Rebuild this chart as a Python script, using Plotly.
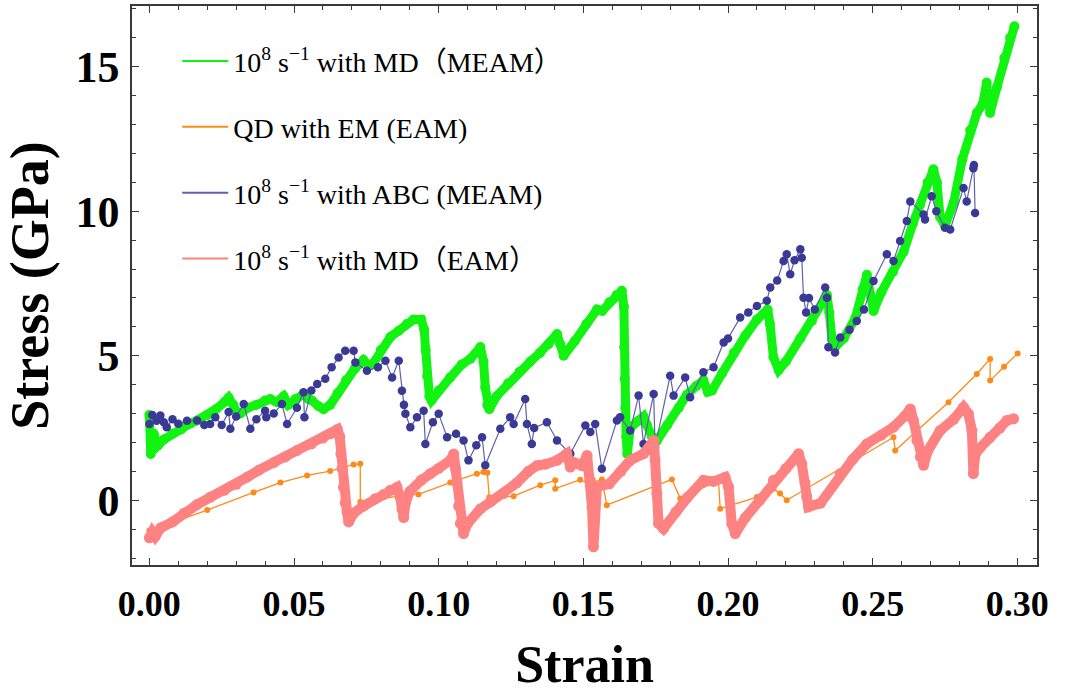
import plotly.graph_objects as go

# ---------------- data ----------------
green_x = [0.0000, 0.0005, 0.0015, 0.0030, 0.0050, 0.0080, 0.0110, 0.0140, 0.0165, 0.0200,
           0.0230, 0.0260, 0.0274, 0.0290, 0.0305, 0.0315, 0.0340, 0.0370, 0.0400, 0.0418,
           0.0440, 0.0464, 0.0480, 0.0505, 0.0533, 0.0550, 0.0562, 0.0585, 0.0602, 0.0625,
           0.0650, 0.0680, 0.0710, 0.0740, 0.0760, 0.0775, 0.0800, 0.0833, 0.0860, 0.0890,
           0.0913, 0.0940, 0.0950, 0.0955, 0.0960, 0.0968, 0.0975, 0.1000, 0.1040, 0.1080,
           0.1110, 0.1144, 0.1155, 0.1161, 0.1168, 0.1175, 0.1200, 0.1240, 0.1280, 0.1317,
           0.1350, 0.1380, 0.1409, 0.1420, 0.1432, 0.1470, 0.1510, 0.1547, 0.1565, 0.1590,
           0.1615, 0.1633, 0.1640, 0.1641, 0.1643, 0.1645, 0.1648, 0.1652, 0.1662, 0.1690,
           0.1708, 0.1720, 0.1737, 0.1754, 0.1790, 0.1830, 0.1858, 0.1890, 0.1915, 0.1930,
           0.1945, 0.1980, 0.2020, 0.2060, 0.2100, 0.2123, 0.2137, 0.2145, 0.2157, 0.2175,
           0.2200, 0.2250, 0.2290, 0.2330, 0.2342, 0.2350, 0.2359, 0.2370, 0.2400, 0.2440,
           0.2465, 0.2480, 0.2495, 0.2503, 0.2530, 0.2570, 0.2607, 0.2640, 0.2663, 0.2690,
           0.2710, 0.2722, 0.2733, 0.2750, 0.2780, 0.2810, 0.2837, 0.2860, 0.2880, 0.2894,
           0.2900, 0.2906, 0.2930, 0.2955, 0.2975, 0.2990]
green_y = [2.95, 1.60, 2.30, 1.90, 2.10, 2.30, 2.45, 2.65, 2.76, 2.95,
           3.15, 3.40, 3.55, 3.30, 3.00, 3.00, 3.20, 3.30, 3.45, 3.50,
           3.40, 3.60, 3.30, 3.50, 3.68, 3.50, 3.45, 3.25, 3.15, 3.30,
           3.70, 4.15, 4.55, 4.85, 4.65, 4.75, 5.20, 5.65, 5.85, 6.10,
           6.25, 6.25, 5.90, 5.20, 4.30, 3.60, 3.45, 3.80, 4.25, 4.70,
           4.90, 5.30, 4.80, 3.90, 3.30, 3.15, 3.60, 4.05, 4.45, 4.80,
           5.10, 5.40, 5.75, 5.40, 5.00, 5.50, 6.10, 6.60, 6.55, 6.85,
           7.10, 7.25, 6.70, 5.30, 4.20, 3.20, 2.20, 1.60, 2.50, 2.75,
           2.90, 2.60, 2.20, 2.05, 2.60, 3.20, 3.65, 3.95, 4.15, 3.75,
           3.80, 4.40, 5.10, 5.70, 6.25, 6.45, 6.60, 6.10, 4.95, 4.50,
           4.80, 5.60, 6.20, 6.85, 7.10, 6.50, 5.60, 5.30, 5.60, 6.30,
           7.30, 7.80, 7.00, 6.55, 7.20, 7.90, 8.60, 9.60, 10.20, 11.00,
           11.45, 11.00, 9.80, 9.50, 10.30, 11.80, 12.80, 13.40, 13.70, 14.45,
           13.80, 13.40, 14.30, 15.30, 16.00, 16.40]

orange_x = [0.0000, 0.0200, 0.0360, 0.0453, 0.0545, 0.0625, 0.0706, 0.0729, 0.0729, 0.0902,
            0.0930, 0.1040, 0.1132, 0.1155, 0.1168, 0.1175, 0.1259, 0.1351, 0.1403, 0.1403,
            0.1489, 0.1518, 0.1564, 0.1581, 0.1806, 0.1835, 0.1967, 0.1973, 0.2100, 0.2157,
            0.2180, 0.2203, 0.2572, 0.2578, 0.2762, 0.2860, 0.2906, 0.2906, 0.2954, 0.3001]
orange_y = [-1.05, -0.34, 0.27, 0.61, 0.86, 1.01, 1.24, 1.26, -0.06, 0.20,
            0.20, 0.61, 0.92, 0.98, 0.95, 0.10, 0.14, 0.52, 0.69, 0.40,
            0.71, 0.57, 0.72, -0.17, 0.72, 0.06, 0.69, -0.29, 0.11, 0.40,
            0.23, 0.00, 2.18, 1.72, 3.39, 4.37, 4.89, 4.14, 4.62, 5.08]

blue_x = [0.0000, 0.0010, 0.0025, 0.0038, 0.0050, 0.0060, 0.0080, 0.0100, 0.0130, 0.0165,
          0.0190, 0.0210, 0.0228, 0.0250, 0.0274, 0.0280, 0.0300, 0.0326, 0.0349, 0.0370,
          0.0400, 0.0404, 0.0430, 0.0458, 0.0476, 0.0510, 0.0533, 0.0536, 0.0560, 0.0580,
          0.0608, 0.0630, 0.0654, 0.0677, 0.0706, 0.0712, 0.0752, 0.0790, 0.0816, 0.0839,
          0.0862, 0.0873, 0.0880, 0.0885, 0.0902, 0.0925, 0.0948, 0.0954, 0.0980, 0.1000,
          0.1029, 0.1060, 0.1086, 0.1103, 0.1130, 0.1150, 0.1161, 0.1213, 0.1247, 0.1259,
          0.1299, 0.1305, 0.1322, 0.1330, 0.1374, 0.1409, 0.1455, 0.1507, 0.1524, 0.1541,
          0.1564, 0.1616, 0.1627, 0.1662, 0.1691, 0.1708, 0.1743, 0.1748, 0.1800, 0.1812,
          0.1852, 0.1869, 0.1915, 0.1950, 0.1985, 0.2000, 0.2042, 0.2070, 0.2100, 0.2134,
          0.2146, 0.2170, 0.2192, 0.2203, 0.2215, 0.2230, 0.2250, 0.2255, 0.2261, 0.2270,
          0.2280, 0.2300, 0.2336, 0.2342, 0.2347, 0.2370, 0.2388, 0.2420, 0.2445, 0.2470,
          0.2503, 0.2549, 0.2572, 0.2595, 0.2618, 0.2630, 0.2676, 0.2681, 0.2704, 0.2720,
          0.2750, 0.2768, 0.2814, 0.2825, 0.2848, 0.2850, 0.2854]
blue_y = [2.64, 2.95, 2.75, 2.93, 2.70, 2.53, 2.80, 2.65, 2.75, 2.76,
          2.60, 2.64, 2.87, 2.60, 3.05, 2.47, 2.90, 3.33, 2.47, 2.80,
          3.10, 2.87, 3.00, 3.33, 2.64, 3.20, 3.74, 2.87, 3.80, 4.02,
          4.20, 4.60, 4.94, 5.17, 5.17, 4.77, 4.48, 4.60, 4.83, 4.25,
          4.83, 3.79, 3.30, 2.99, 2.53, 2.87, 3.10, 1.95, 2.70, 2.99,
          2.18, 2.30, 2.07, 1.38, 1.90, 2.18, 1.21, 2.47, 2.87, 2.64,
          3.50, 2.64, 1.95, 2.50, 2.70, 2.07, 1.61, 2.59, 2.36, 2.64,
          1.09, 2.76, 2.87, 2.41, 3.62, 1.95, 3.68, 1.84, 4.31, 3.62,
          4.25, 3.56, 4.43, 4.60, 5.46, 5.60, 6.32, 6.50, 6.72, 6.90,
          7.36, 7.60, 8.28, 8.51, 7.82, 8.30, 8.68, 8.39, 7.01, 6.50,
          7.00, 6.60, 7.36, 7.01, 5.29, 5.11, 5.63, 5.90, 6.20, 6.60,
          7.59, 8.51, 8.28, 8.97, 9.66, 10.34, 9.89, 9.71, 10.52, 10.00,
          9.43, 9.37, 10.80, 10.34, 11.49, 11.60, 9.94]

pink_x = [0.0000, 0.0010, 0.0020, 0.0040, 0.0080, 0.0120, 0.0165, 0.0210, 0.0260, 0.0300,
          0.0338, 0.0380, 0.0430, 0.0470, 0.0510, 0.0560, 0.0600, 0.0625, 0.0650, 0.0658,
          0.0662, 0.0666, 0.0671, 0.0677, 0.0683, 0.0689, 0.0706, 0.0740, 0.0780, 0.0810,
          0.0833, 0.0856, 0.0867, 0.0873, 0.0879, 0.0885, 0.0900, 0.0940, 0.0971, 0.1000,
          0.1040, 0.1052, 0.1058, 0.1063, 0.1069, 0.1075, 0.1086, 0.1100, 0.1144, 0.1180,
          0.1224, 0.1270, 0.1310, 0.1340, 0.1370, 0.1409, 0.1443, 0.1455, 0.1470, 0.1495,
          0.1513, 0.1524, 0.1530, 0.1535, 0.1547, 0.1590, 0.1630, 0.1662, 0.1708, 0.1743,
          0.1748, 0.1754, 0.1760, 0.1777, 0.1820, 0.1860, 0.1915, 0.1950, 0.1990, 0.2002,
          0.2013, 0.2025, 0.2060, 0.2110, 0.2157, 0.2200, 0.2244, 0.2255, 0.2266, 0.2272,
          0.2278, 0.2320, 0.2388, 0.2430, 0.2480, 0.2530, 0.2572, 0.2610, 0.2630, 0.2641,
          0.2653, 0.2665, 0.2676, 0.2690, 0.2733, 0.2780, 0.2814, 0.2831, 0.2843, 0.2848,
          0.2855, 0.2870, 0.2906, 0.2940, 0.2964, 0.2987]
pink_y = [-1.30, -1.10, -1.25, -0.95, -0.75, -0.45, -0.15, 0.10, 0.35, 0.55,
          0.80, 1.05, 1.30, 1.50, 1.72, 1.95, 2.15, 2.30, 2.45, 2.20,
          1.60, 1.10, 0.45, -0.10, -0.40, -0.75, -0.45, -0.20, 0.05, 0.20,
          0.35, 0.45, 0.10, -0.30, -0.60, -0.10, 0.30, 0.70, 0.92, 1.10,
          1.38, 1.60, 1.10, 0.60, -0.20, -0.80, -1.15, -0.80, -0.30, -0.05,
          0.23, 0.60, 1.00, 1.20, 1.25, 1.38, 1.61, 1.15, 1.30, 1.20,
          1.55, 0.69, -0.23, -1.61, 0.46, 0.57, 1.00, 1.38, 1.61, 2.07,
          1.38, 0.23, -0.80, -0.98, -0.40, 0.10, 0.69, 0.65, 0.80, 0.46,
          -0.80, -1.15, -0.60, 0.00, 0.69, 1.10, 1.61, 1.26, 0.60, 0.11,
          -0.23, -0.10, 0.92, 1.40, 1.95, 2.25, 2.53, 2.90, 3.16, 2.76,
          2.07, 1.50, 1.21, 1.70, 2.41, 2.80, 3.22, 2.99, 2.41, 0.92,
          1.60, 1.80, 2.18, 2.50, 2.76, 2.82]

x_ticks = [0.00, 0.05, 0.10, 0.15, 0.20, 0.25, 0.30]
x_tick_labels = ["0.00", "0.05", "0.10", "0.15", "0.20", "0.25", "0.30"]
y_ticks = [0, 5, 10, 15]
y_tick_labels = ["0", "5", "10", "15"]

legend_names = ["10<sup>8</sup> s<sup>\u22121</sup> with MD\uff08MEAM\uff09",
                "QD with EM (EAM)",
                "10<sup>8</sup> s<sup>\u22121</sup> with ABC (MEAM)",
                "10<sup>8</sup> s<sup>\u22121</sup> with MD\uff08EAM\uff09"]

# ---------------- styles ----------------
C_GREEN = "#12F312"
C_ORANGE = "#FF8A1A"
C_BLUE = "#3A3A96"
C_BLUE_LINE = "#6060B0"
C_PINK = "#FF8282"
SERIF = "Liberation Serif, Times New Roman, Noto Sans CJK SC, serif"
FRAME = "#3a3a3a"

fig = go.Figure()

# data traces
fig.add_trace(go.Scatter(x=green_x, y=green_y, mode="lines+markers", showlegend=False,
                         line=dict(color=C_GREEN, width=9), marker=dict(color=C_GREEN, size=10)))
fig.add_trace(go.Scatter(x=orange_x, y=orange_y, mode="lines+markers", showlegend=False,
                         line=dict(color=C_ORANGE, width=1.3), marker=dict(color=C_ORANGE, size=6)))
fig.add_trace(go.Scatter(x=blue_x, y=blue_y, mode="lines+markers", showlegend=False,
                         line=dict(color=C_BLUE_LINE, width=1.2), marker=dict(color=C_BLUE, size=8.5)))
fig.add_trace(go.Scatter(x=pink_x, y=pink_y, mode="lines+markers", showlegend=False,
                         line=dict(color=C_PINK, width=10), marker=dict(color=C_PINK, size=11)))

# legend entries (thin line samples, as in the reference)
for name, col, grp in zip(legend_names, [C_GREEN, C_ORANGE, C_BLUE_LINE, C_PINK], ["g", "o", "b", "p"]):
    fig.add_trace(go.Scatter(x=[None], y=[None], mode="lines", name=name, legendgroup=grp,
                             line=dict(color=col, width=2)))

axis_common = dict(
    showline=True, linecolor=FRAME, linewidth=1.5, mirror="ticks",
    ticks="inside", ticklen=7, tickwidth=1.2, tickcolor=FRAME,
    showgrid=False, zeroline=False,
)

fig.update_xaxes(
    range=[-0.006, 0.3068], tickvals=x_ticks, ticktext=x_tick_labels,
    tickfont=dict(family=SERIF, size=36, color="black", weight="bold"),
    ticklabelstandoff=6,
    minor=dict(ticks="inside", ticklen=4, tickwidth=1, tickcolor=FRAME, dtick=0.01, tick0=0),
    title=dict(text="Strain", font=dict(family=SERIF, size=52, color="black", weight="bold"),
               standoff=23),
    **axis_common,
)
fig.update_yaxes(
    range=[-2.24, 17.1], tickvals=y_ticks, ticktext=y_tick_labels,
    tickfont=dict(family=SERIF, size=44, color="black", weight="bold"),
    ticklabelstandoff=2,
    minor=dict(ticks="inside", ticklen=4, tickwidth=1, tickcolor=FRAME, dtick=1, tick0=0),
    title=dict(text="Stress (GPa)", font=dict(family=SERIF, size=54, color="black", weight="bold"),
               standoff=12),
    **axis_common,
)

fig.update_layout(
    width=1068, height=699,
    margin=dict(l=132, r=31, t=4, b=134),
    paper_bgcolor="white", plot_bgcolor="white",
    legend=dict(x=0.05, y=0.946, xanchor="left", yanchor="top",
                font=dict(family=SERIF, size=28, color="black"),
                bgcolor="rgba(0,0,0,0)", traceorder="grouped", tracegroupgap=26.5,
                itemwidth=46),
)

fig.write_html("out.html", config={"displayModeBar": False},
               post_script="document.body.style.margin='0px';")
